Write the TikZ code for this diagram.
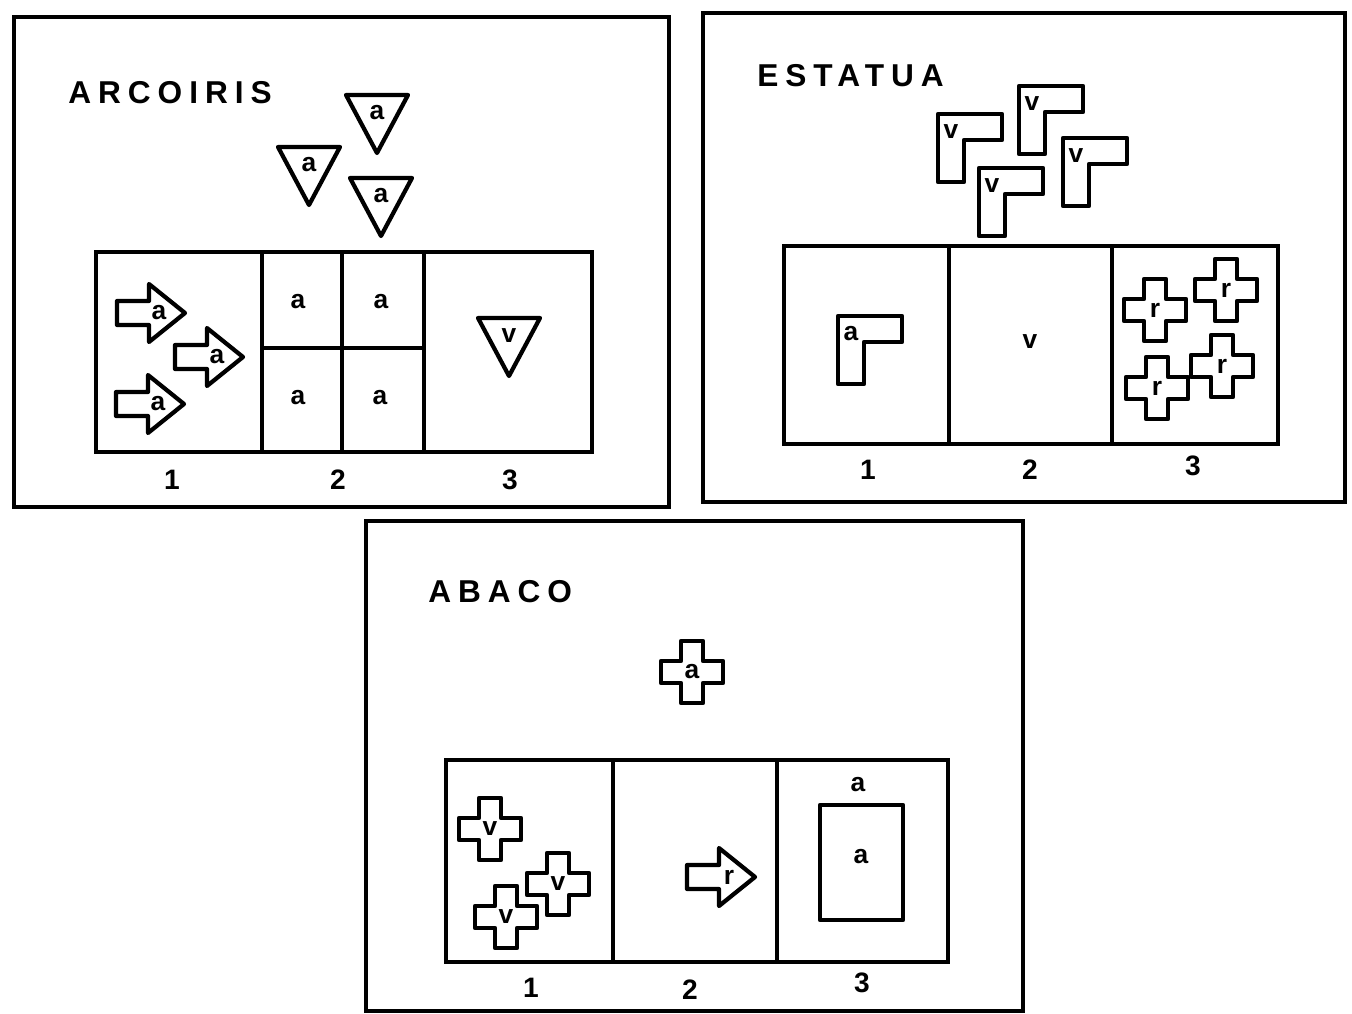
\documentclass[tikz,border=0pt]{standalone}
\usepackage{fontspec}
\setmainfont{Liberation Sans}
\newfontfamily\titlefont{Liberation Sans}[LetterSpace=22]
\usetikzlibrary{positioning}

\begin{document}
\begin{tikzpicture}[x=0.02cm, y=-0.02cm,
        frame/.style={line width=2.8pt},
        board/.style={line width=2.6pt},
        shp/.style={line width=2.4pt, line join=round, fill=white},
        title/.style={font=\titlefont\bfseries\fontsize{18}{18}\selectfont,
                      anchor=base west, inner sep=0pt},
        num/.style={font=\bfseries\fontsize{16}{16}\selectfont, inner sep=0pt},
        glyph/.style={font=\bfseries\fontsize{15}{15}\selectfont, inner sep=0pt},
        tri/.pic={\draw[shp] (-31,-24) -- (31,-24) -- (0,34) -- cycle;
                  \node[glyph] (-l) at (0,-6) {#1};},
        blockarr/.pic={\draw[shp] (-34,-12) -- (-2,-12) -- (-2,-29) -- (34,0)
                         -- (-2,29) -- (-2,12) -- (-34,12) -- cycle;
                       \node[glyph] (-l) at (8,0) {#1};},
        lpiece/.pic={\draw[shp] (-32,-34) -- (32,-34) -- (32,-8) -- (-6,-8)
                       -- (-6,34) -- (-32,34) -- cycle;
                     \node[glyph] (-l) at (-19,-16) {#1};},
        cross/.pic={\draw[shp] (-11,-31) -- (11,-31) -- (11,-11) -- (31,-11)
                      -- (31,11) -- (11,11) -- (11,31) -- (-11,31) -- (-11,11)
                      -- (-31,11) -- (-31,-11) -- (-11,-11) -- cycle;
                    \node[glyph] (-l) at (0,0) {#1};}
      ]
        \useasboundingbox (0,0) rectangle (1352,1014);

        \draw[frame] (14,17) rectangle (669,507);
        \node[title] (arcotitle) at (68,103) {ARCOIRIS};
        \pic (at1) at (377,119) {tri=a};
        \pic (at2) at (309,171) {tri=a};
        \pic (at3) at (381,202) {tri=a};
        \draw[board] (96,252) rectangle (592,452);
        \draw[board] (262,252) -- (262,452);
        \draw[board] (424,252) -- (424,452);
        \draw[board] (342,252) -- (342,452);
        \draw[board] (262,348) -- (424,348);
        \pic (aa1) at (151,313) {blockarr=a};
        \pic (aa2) at (209,357) {blockarr=a};
        \pic (aa3) at (150,404) {blockarr=a};
        \node[glyph] (ac1) at (298,302) {a};
        \node[glyph] (ac2) at (381,302) {a};
        \node[glyph] (ac3) at (298,398) {a};
        \node[glyph] (ac4) at (380,398) {a};
        \pic (at4) at (509,342) {tri=v};
        \node[num] (anum1) at (172,480) {1};
        \node[num] (anum2) at (338,480) {2};
        \node[num] (anum3) at (510,480) {3};

        \draw[frame] (703,13) rectangle (1345,502);
        \node[title] (estatitle) at (757,86) {ESTATUA};
        \pic (el1) at (970,148) {lpiece=v};
        \pic (el2) at (1051,120) {lpiece=v};
        \pic (el3) at (1095,172) {lpiece=v};
        \pic (el4) at (1011,202) {lpiece=v};
        \draw[board] (784,246) rectangle (1278,444);
        \draw[board] (949,246) -- (949,444);
        \draw[board] (1112,246) -- (1112,444);
        \pic (el5) at (870,350) {lpiece=a};
        \node[glyph] (ec2) at (1030,342) {v};
        \pic (ex1) at (1155,310) {cross=r};
        \pic (ex2) at (1226,290) {cross=r};
        \pic (ex3) at (1157,388) {cross=r};
        \pic (ex4) at (1222,366) {cross=r};
        \node[num] (enum1) at (868,470) {1};
        \node[num] (enum2) at (1030,470) {2};
        \node[num] (enum3) at (1193,466) {3};

        \draw[frame] (366,521) rectangle (1023,1011);
        \node[title] (abactitle) at (428,602) {ABACO};
        \pic (bx0) at (692,672) {cross=a};
        \draw[board] (446,760) rectangle (948,962);
        \draw[board] (613,760) -- (613,962);
        \draw[board] (777,760) -- (777,962);
        \pic (bx1) at (490,829) {cross=v};
        \pic (bx2) at (558,884) {cross=v};
        \pic (bx3) at (506,917) {cross=v};
        \pic (ba1) at (721,877) {blockarr=r};
        \node[glyph] (bc1) at (858,785) {a};
        \draw[shp] (820,805) rectangle (903,920);
        \node[glyph] (bc2) at (861,857) {a};
        \node[num] (bnum1) at (531,988) {1};
        \node[num] (bnum2) at (690,990) {2};
        \node[num] (bnum3) at (862,983) {3};
      \end{tikzpicture}
\end{document}
